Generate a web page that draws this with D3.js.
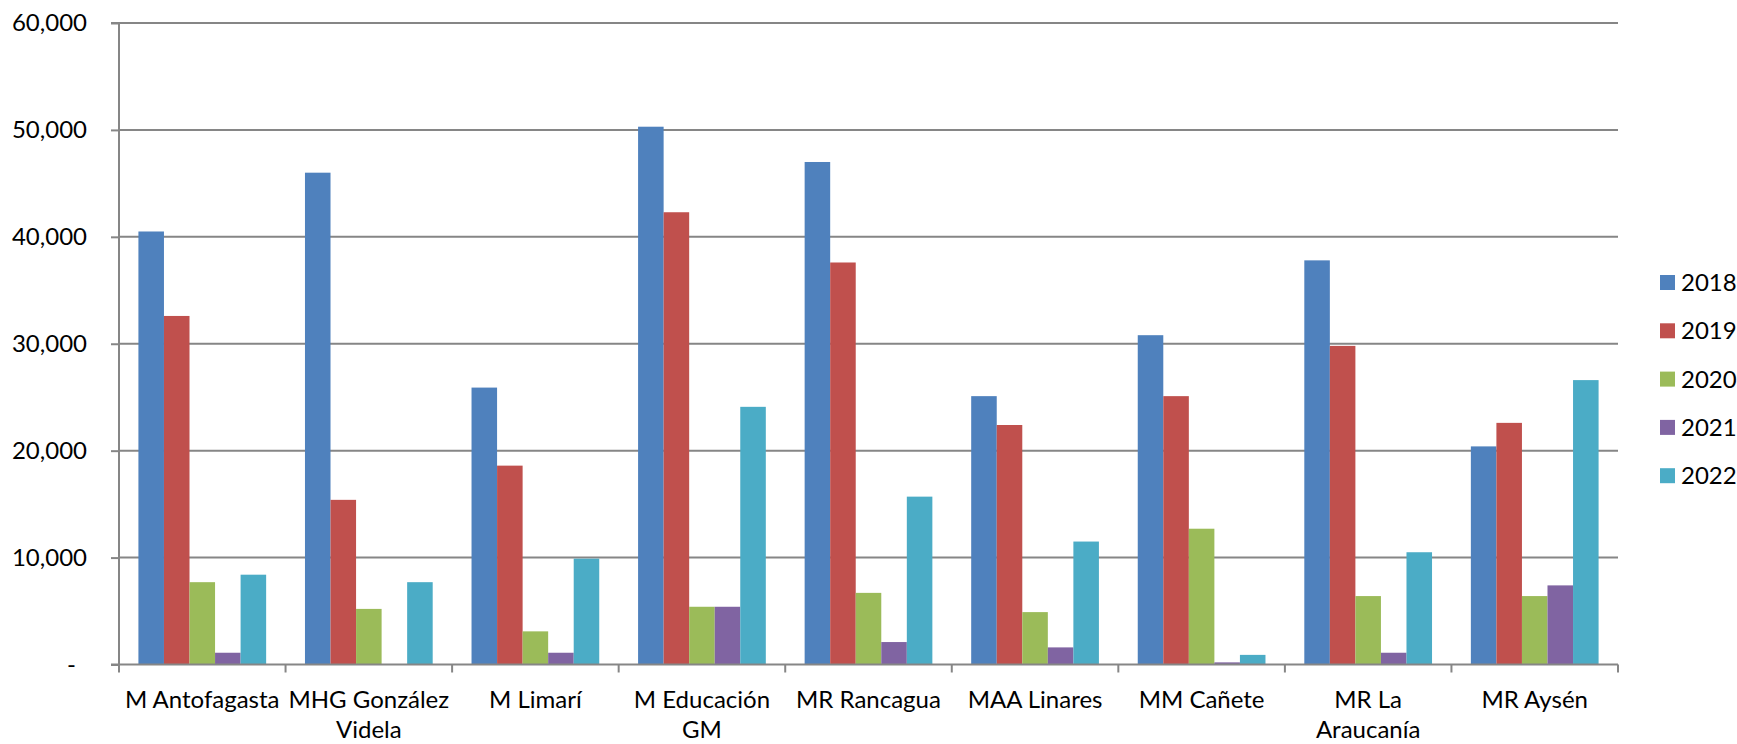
<!DOCTYPE html>
<html><head><meta charset="utf-8">
<script src="https://cdn.jsdelivr.net/npm/d3@7"></script>
<style>
body{margin:0;background:#fff}
text{font-family:Lato, "Open Sans", sans-serif; fill:#000}
</style>
</head><body>
<svg id="c" width="1737" height="744"></svg>
<script>
const categories = ["M Antofagasta", "MHG González\nVidela", "M Limarí", "M Educación\nGM", "MR Rancagua", "MAA Linares", "MM Cañete", "MR La\nAraucanía", "MR Aysén"];
const years = ["2018", "2019", "2020", "2021", "2022"];
const v2018 = [40500, 46000, 25900, 50300, 47000, 25100, 30800, 37800, 20400];
const v2019 = [32600, 15400, 18600, 42300, 37600, 22400, 25100, 29800, 22600];
const v2020 = [7700, 5200, 3100, 5400, 6700, 4900, 12700, 6400, 6400];
const v2021 = [1100, null, 1100, 5400, 2100, 1600, 200, 1100, 7400];
const v2022 = [8400, 7700, 9900, 24100, 15700, 11500, 900, 10500, 26600];
const yTicks = [0, 10000, 20000, 30000, 40000, 50000, 60000];
const colors = ["#4F81BD", "#C0504D", "#9BBB59", "#8064A2", "#4BACC6"];

const seriesValues = [v2018, v2019, v2020, v2021, v2022];
const svg = d3.select("#c");
const pLeft = 119, pRight = 1618, pTop = 23, pBottom = 664.5;
const grid = "#868686";
const fs = 24;

const x = d3.scaleBand().domain(categories).range([pLeft, pRight]).paddingInner(0).paddingOuter(0);
const xi = d3.scaleBand().domain(years).range([0, x.bandwidth()]).paddingInner(0).paddingOuter(0.76);
const y = d3.scaleLinear().domain([0, 60000]).range([pBottom, pTop]);
const fmt = d3.format(",");

// gridlines
svg.append("g").selectAll("line").data(yTicks.filter(t => t > 0)).join("line")
  .attr("x1", pLeft).attr("x2", pRight).attr("y1", d => y(d)).attr("y2", d => y(d))
  .attr("stroke", grid).attr("stroke-width", 2);

// bars
const gBars = svg.append("g");
categories.forEach((c, ci) => {
  years.forEach((yr, si) => {
    const v = seriesValues[si][ci];
    if (v == null) return;
    gBars.append("rect")
      .attr("x", x(c) + xi(yr))
      .attr("width", xi.bandwidth())
      .attr("y", y(v))
      .attr("height", y(0) - y(v))
      .attr("fill", colors[si]);
  });
});

// y axis
const yAxis = d3.axisLeft(y).tickValues(yTicks).tickSize(8).tickPadding(24)
  .tickFormat(d => d === 0 ? "-" : fmt(d));
const ga = svg.append("g").attr("transform", `translate(${pLeft},0)`).call(yAxis);
ga.select(".domain").attr("stroke", grid).attr("stroke-width", 2).attr("d", `M-8,${pTop}H0V${pBottom}`);
ga.selectAll(".tick line").attr("stroke", grid).attr("stroke-width", 2);
ga.selectAll(".tick text").attr("font-size", fs).attr("font-family", "Lato").attr("fill", "#000");
ga.selectAll(".tick text").filter(d => d === 0).attr("text-anchor", "middle").attr("x", 71.5 - pLeft);

// x axis
const xa = d3.axisBottom(x).tickSize(0).tickFormat("");
const gx = svg.append("g").attr("transform", `translate(0,${pBottom})`).call(xa);
gx.select(".domain").attr("stroke", grid).attr("stroke-width", 2).attr("d", `M${pLeft - 8},0H${pRight}`);
gx.selectAll(".tick").remove();
const bounds = categories.map(c => x(c)).concat([pRight]);
gx.selectAll("line.b").data(bounds).join("line").attr("class", "b")
  .attr("x1", d => d).attr("x2", d => d).attr("y1", 0).attr("y2", 8)
  .attr("stroke", grid).attr("stroke-width", 2);

const gl = svg.append("g");
categories.forEach(c => {
  const lines = c.split("\n");
  const t = gl.append("text").attr("text-anchor", "middle").attr("font-size", fs)
    .attr("x", x(c) + x.bandwidth() / 2).attr("y", 708);
  lines.forEach((ln, i) => {
    t.append("tspan").attr("x", x(c) + x.bandwidth() / 2).attr("dy", i === 0 ? 0 : 30).text(ln);
  });
});

// legend
const lg = svg.append("g").attr("transform", "translate(1660,282.5)");
years.forEach((yr, i) => {
  const row = lg.append("g").attr("transform", `translate(0,${i * 48.3})`);
  row.append("rect").attr("x", 0).attr("y", -7.5).attr("width", 15).attr("height", 15).attr("fill", colors[i]);
  row.append("text").attr("x", 21).attr("y", 0).attr("dy", "0.35em").attr("font-size", fs).text(yr);
});
</script>
</body></html>
